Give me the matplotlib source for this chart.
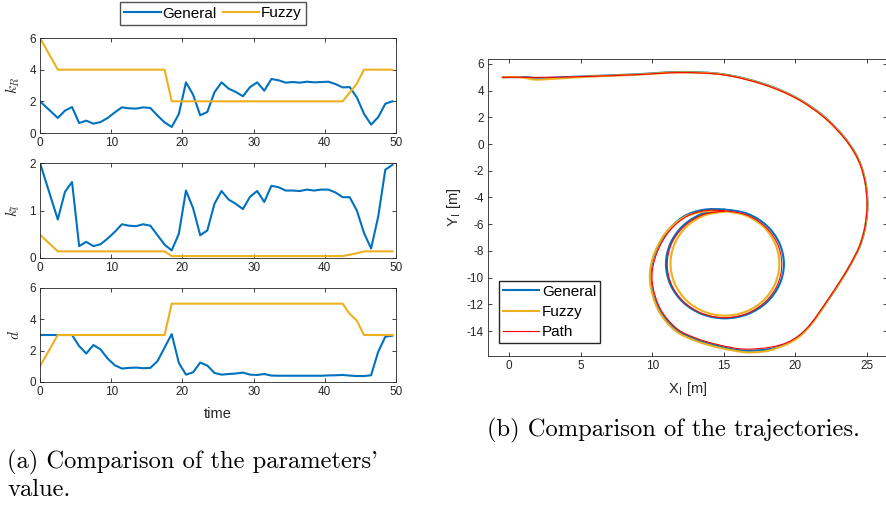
import numpy as np
import matplotlib
matplotlib.use("Agg")
import matplotlib.pyplot as plt
from matplotlib.path import Path
from matplotlib.patches import PathPatch
from matplotlib.lines import Line2D

plt.rcParams['font.family'] = ['Liberation Sans', 'DejaVu Sans']
plt.rcParams['mathtext.fontset'] = 'cm'
plt.rcParams['axes.unicode_minus'] = False

# ---------------- data: parameters over time ----------------
time = np.concatenate([[0.0], np.arange(2.5, 50.0, 1.0)])

kR_general = [2.0, 0.95, 1.41, 1.64, 0.63, 0.78, 0.59, 0.69, 0.95, 1.3,
              1.62, 1.56, 1.54, 1.62, 1.58, 1.1, 0.67, 0.38, 1.2, 3.2,
              2.42, 1.12, 1.33, 2.57, 3.2, 2.8, 2.59, 2.32, 2.9, 3.2,
              2.67, 3.41, 3.33, 3.18, 3.22, 3.18, 3.24, 3.2, 3.22, 3.24,
              3.09, 2.88, 2.9, 2.25, 1.22, 0.53, 1.0, 1.85, 2.0]
kR_fuzzy = [6.0] + [4.0] * 16 + [2.0] * 25 + [2.55, 3.12] + [4.0] * 5

kl_general = [2.0, 0.81, 1.39, 1.6, 0.25, 0.34, 0.25, 0.29, 0.41, 0.55,
              0.71, 0.68, 0.67, 0.71, 0.68, 0.48, 0.28, 0.16, 0.51, 1.42,
              1.05, 0.48, 0.58, 1.14, 1.41, 1.23, 1.14, 1.03, 1.29, 1.41,
              1.18, 1.52, 1.49, 1.42, 1.42, 1.41, 1.44, 1.42, 1.44, 1.44,
              1.38, 1.28, 1.28, 1.0, 0.53, 0.2, 0.87, 1.86, 1.96]
kl_fuzzy = [0.49] + [0.14] * 16 + [0.04] * 25 + [0.07, 0.10] + [0.14] * 5

d_general = [3.0, 3.0, 3.0, 3.0, 2.29, 1.82, 2.36, 2.08, 1.5, 1.07,
             0.86, 0.9, 0.92, 0.88, 0.9, 1.33, 2.2, 3.06, 1.22, 0.47,
             0.62, 1.24, 1.05, 0.58, 0.47, 0.51, 0.54, 0.6, 0.47, 0.45,
             0.51, 0.41, 0.4, 0.4, 0.4, 0.4, 0.4, 0.4, 0.4, 0.42,
             0.43, 0.45, 0.41, 0.38, 0.38, 0.43, 1.93, 2.89, 2.96]
d_fuzzy = [1.0] + [3.0] * 16 + [5.0] * 25 + [4.35, 3.92] + [3.0] * 5

# ---------------- data: trajectories ----------------
path_x = [-0.5, 1.0, 3.0, 6.0, 9.0, 12.0, 15.0, 17.8, 20.1, 21.95, 23.3, 24.1,
          24.58, 24.88, 25.0, 24.98, 24.81, 24.46, 23.88, 23.18, 22.4, 21.7,
          21.05, 20.35, 19.45, 18.2, 16.4, 14.7, 13.1, 11.7, 10.55, 10.0, 10.2,
          11.0, 12.2, 13.6,
          15.05, 16.58, 17.88, 18.75, 19.05, 18.75, 17.88, 16.58, 15.05,
          13.52, 12.22, 11.35, 11.05, 11.35, 12.22, 13.52, 15.05]
path_y = [5.0, 5.0, 5.0, 5.08, 5.2, 5.35, 5.18, 4.45, 3.4, 2.05, 0.6, -0.6,
          -1.69, -2.94, -4.19, -5.18, -6.43, -7.68, -8.93, -10.18, -11.45, -12.55,
          -13.5, -14.25, -14.85, -15.22, -15.35, -15.05, -14.55, -13.8, -12.3, -10.3, -8.55,
          -6.8, -5.55, -5.0,
          -5.0, -5.3, -6.17, -7.47, -9.0, -10.53, -11.83, -12.7, -13.0,
          -12.7, -11.83, -10.53, -9.0, -7.47, -6.17, -5.3, -5.0]

general_x = [-0.5, 1.0, 2.0, 3.0, 6.0, 9.0, 12.0, 15.0, 17.8, 20.12, 21.98, 23.33,
             24.13, 24.61, 24.91, 25.03, 25.01, 24.84, 24.49, 23.9, 23.2, 22.41,
             21.7, 21.04, 20.32, 19.42, 18.2, 16.4, 14.7, 13.05, 11.62, 10.45,
             9.9, 10.1, 10.92, 12.13, 13.55,
             15.08, 16.66, 17.99, 18.88, 19.2, 18.88, 17.99, 16.66, 15.08,
             13.5, 12.17, 11.28, 10.96, 11.28, 12.17, 13.5, 15.08]
general_y = [5.0, 5.02, 4.93, 4.97, 5.1, 5.23, 5.4, 5.22, 4.5, 3.44, 2.08, 0.62,
             -0.59, -1.69, -2.94, -4.19, -5.18, -6.43, -7.68, -8.93, -10.2, -11.48,
             -12.6, -13.56, -14.33, -14.93, -15.35, -15.47, -15.15, -14.63, -13.85, -12.32,
             -10.3, -8.5, -6.74, -5.47, -4.93,
             -4.91, -5.22, -6.1, -7.42, -8.98, -10.54, -11.86, -12.74, -13.05,
             -12.74, -11.86, -10.54, -8.98, -7.42, -6.1, -5.22, -4.91]

fuzzy_x = [-0.5, 0.8, 1.8, 3.0, 4.5, 6.0, 9.0, 12.0, 15.0, 17.8, 20.1, 21.96,
           23.31, 24.11, 24.6, 24.9, 25.02, 25.0, 24.83, 24.48, 23.89, 23.19, 22.39,
           21.68, 21.01, 20.28, 19.38, 18.2, 17.3, 16.4, 14.7, 13.0, 11.55, 10.4,
           9.85, 10.05, 10.9, 12.2, 13.65,
           15.08, 16.53, 17.77, 18.59, 18.88, 18.59, 17.77, 16.53, 15.08,
           13.63, 12.39, 11.57, 11.28, 11.57, 12.39, 13.63, 15.08]
fuzzy_y = [5.0, 5.0, 4.83, 4.88, 4.98, 5.07, 5.2, 5.37, 5.2, 4.47, 3.42, 2.06,
           0.61, -0.6, -1.69, -2.94, -4.19, -5.18, -6.43, -7.68, -8.93, -10.21, -11.5,
           -12.65, -13.62, -14.42, -15.0, -15.45, -15.58, -15.58, -15.25, -14.72, -13.92, -12.38,
           -10.3, -8.5, -6.7, -5.5, -5.05,
           -5.05, -5.35, -6.19, -7.46, -8.95, -10.44, -11.71, -12.55, -12.85,
           -12.55, -11.71, -10.44, -8.95, -7.46, -6.19, -5.35, -5.05]

BLUE = '#0072BD'
YELLOW = '#EDB120'
RED = '#FF0000'
AXC = '#262626'

W, H = 886, 505
fig = plt.figure(figsize=(W / 100, H / 100), dpi=100)


def frac(x0, y0, x1, y1):
    return [x0 / W, 1 - y1 / H, (x1 - x0) / W, (y1 - y0) / H]


def style(ax):
    ax.tick_params(direction='in', length=3, width=0.6, top=True, right=True,
                   labelsize=8.5, colors=AXC, pad=3)
    for s in ax.spines.values():
        s.set_color(AXC)
        s.set_linewidth(0.6)


panels = [
    (frac(40, 38, 396, 133), kR_general, kR_fuzzy, (0, 6), [0, 2, 4, 6], r'$k_R$'),
    (frac(40, 163, 396, 258), kl_general, kl_fuzzy, (0, 2), [0, 1, 2], r'$k_l$'),
    (frac(40, 288, 396, 382), d_general, d_fuzzy, (0, 6), [0, 2, 4, 6], r'$d$'),
]
for i, (pos, g, f, yl, yt, lab) in enumerate(panels):
    ax = fig.add_axes(pos)
    ax.plot(time, g, color=BLUE, lw=1.5, label='General')
    ax.plot(time, f, color=YELLOW, lw=1.5, label='Fuzzy')
    ax.set_xlim(0, 50)
    ax.set_ylim(*yl)
    ax.set_xticks([0, 10, 20, 30, 40, 50])
    ax.set_yticks(yt)
    ax.set_ylabel(lab, fontsize=11, color=AXC, labelpad=5)
    style(ax)
    if i == 2:
        ax.set_xlabel('time', fontsize=10.5, color=AXC, labelpad=6)

fig.legend(handles=[Line2D([], [], color=BLUE, lw=1.5), Line2D([], [], color=YELLOW, lw=1.5)],
           labels=['General', 'Fuzzy'], loc='center', bbox_to_anchor=(213 / W, 1 - 13.5 / H),
           ncol=2, fontsize=11, frameon=True, fancybox=False, edgecolor=AXC,
           handlelength=2.4, handletextpad=0.1, columnspacing=0.4, borderpad=0.3,
           borderaxespad=0)


def smooth(xs, ys):
    P = np.column_stack([xs, ys]).astype(float)
    n = len(P)
    verts = [P[0]]
    codes = [Path.MOVETO]
    for i in range(n - 1):
        p0 = P[i - 1] if i > 0 else P[i]
        p1, p2 = P[i], P[i + 1]
        p3 = P[i + 2] if i + 2 < n else P[i + 1]
        verts += [p1 + (p2 - p0) / 6, p2 - (p3 - p1) / 6, p2]
        codes += [Path.CURVE4] * 3
    return Path(verts, codes)


axr = fig.add_axes(frac(488, 59, 887, 356))
for xs, ys, c, lw in [(general_x, general_y, BLUE, 1.5),
                      (fuzzy_x, fuzzy_y, YELLOW, 1.5),
                      (path_x, path_y, RED, 0.8)]:
    axr.add_patch(PathPatch(smooth(xs, ys), facecolor='none', edgecolor=c, lw=lw))
axr.set_xlim(-1.47, 26.4)
axr.set_ylim(-15.87, 6.37)
axr.set_xticks([0, 5, 10, 15, 20, 25])
axr.set_yticks(list(range(-14, 7, 2)))
style(axr)
axr.set_xlabel(r'X$_\mathregular{I}$ [m]', fontsize=10.5, color=AXC, labelpad=6)
axr.set_ylabel(r'Y$_\mathregular{I}$ [m]', fontsize=10.5, color=AXC, labelpad=3)
axr.legend(handles=[Line2D([], [], color=BLUE, lw=1.5), Line2D([], [], color=YELLOW, lw=1.5),
                    Line2D([], [], color=RED, lw=0.8)],
           labels=['General', 'Fuzzy', 'Path'], loc='upper left',
           bbox_to_anchor=(499 / W, 1 - 281 / H), bbox_transform=fig.transFigure,
           fontsize=11, frameon=True, fancybox=False, edgecolor=AXC, framealpha=1,
           handlelength=2.4, handletextpad=0.15, borderpad=0.25, labelspacing=0.4,
           borderaxespad=0)

cap = dict(fontfamily='cmr10', fontsize=17.7, color='black')
fig.text(487 / W, 1 - 430 / H, '(b) Comparison of the trajectories.', va='center', ha='left', **cap)
fig.text(7 / W, 1 - 462 / H, "(a) Comparison of the parameters'", va='center', ha='left', **cap)
fig.text(7 / W, 1 - 490 / H, 'value.', va='center', ha='left', **cap)

fig.savefig('out.png', dpi=100)
